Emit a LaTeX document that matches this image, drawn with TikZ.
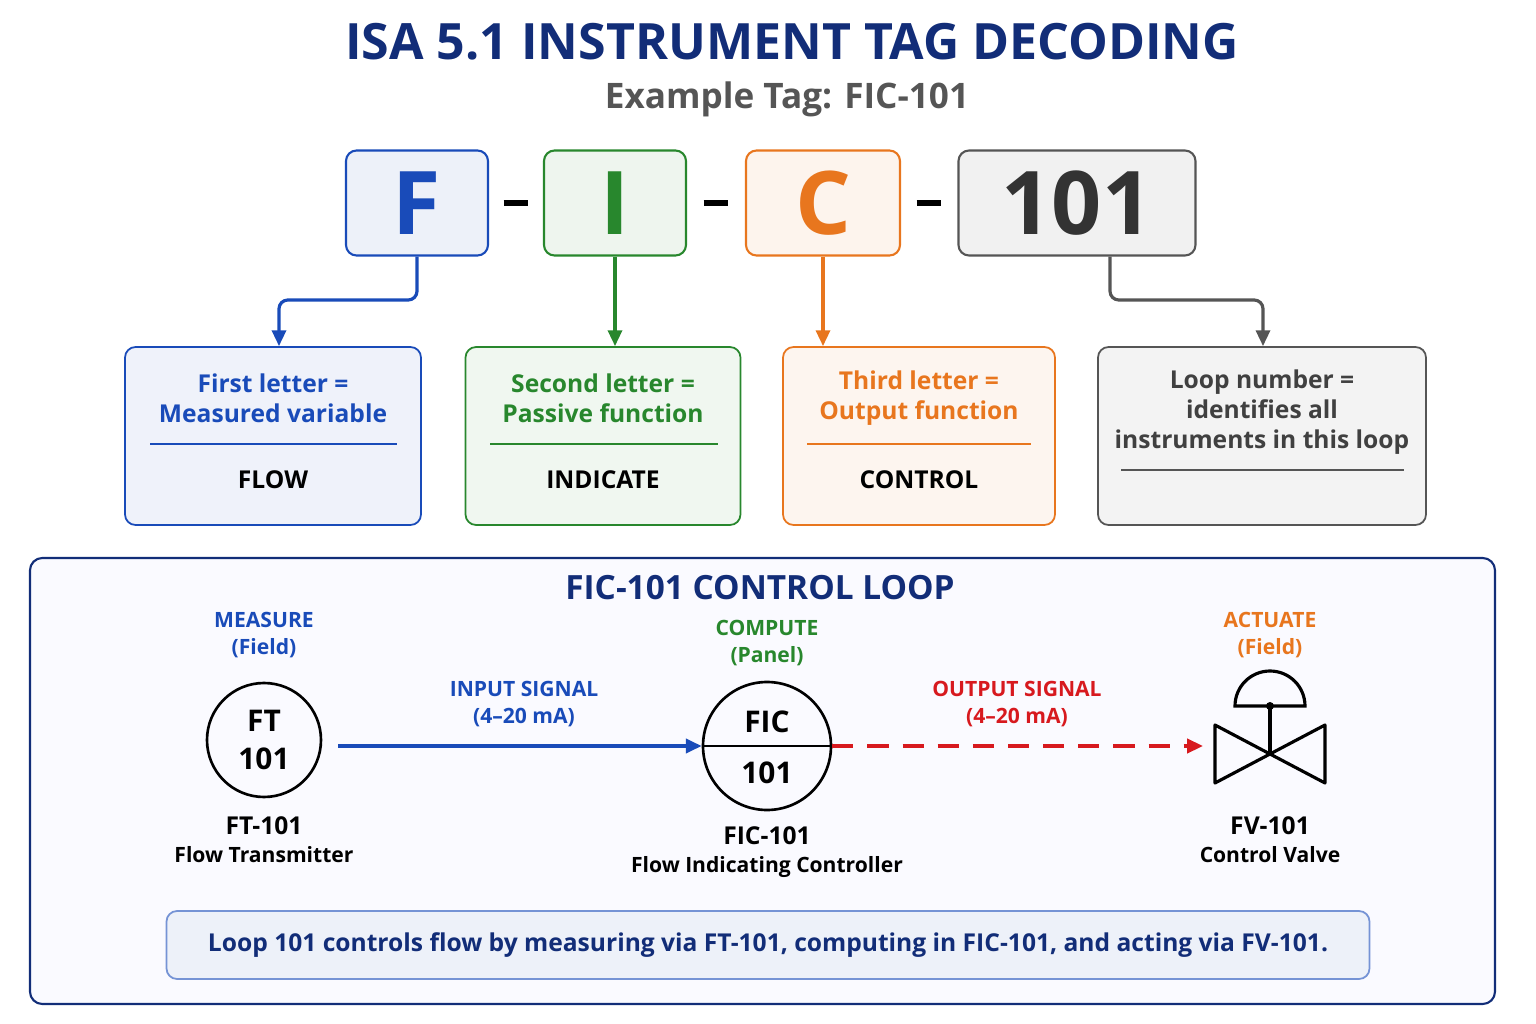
\documentclass[tikz,border=0pt]{standalone}
\usepackage{fontspec}
\setmainfont{Open Sans}
\usetikzlibrary{positioning,arrows.meta}
\definecolor{navy}{RGB}{18,45,120}
\definecolor{bl}{RGB}{25,75,185}
\definecolor{grx}{RGB}{40,135,45}
\definecolor{orx}{RGB}{232,118,30}
\definecolor{gyx}{RGB}{85,85,85}
\definecolor{rdx}{RGB}{215,25,30}
\tikzset{
    letter/.style={draw=#1,fill=#1!8,rounded corners=6pt,line width=1.2pt,text=#1,font=\fontsize{50}{50}\selectfont\bfseries},
    desc/.style={draw=#1,fill=#1!7,rounded corners=6pt,line width=1pt},
    dtxt/.style={text=#1,font=\fontsize{14}{17}\selectfont\bfseries,align=center},
    link/.style={draw=#1,line width=1.8pt,-{Triangle[length=9pt,width=8pt]}},
    lbl/.style={font=\fontsize{12}{15}\selectfont\bfseries,align=center},
    instr/.style={circle,draw,line width=1.5pt,inner sep=0pt}
}
\begin{document}
\begin{tikzpicture}[x=0.02cm,y=-0.02cm]
            \useasboundingbox (0,0) rectangle (1536,1024);
            \node[text=navy,font=\fontsize{28.5}{30}\selectfont\bfseries] (title) at (792,42) {ISA 5.1 INSTRUMENT TAG DECODING};
            \node[text=gyx,font=\fontsize{20}{20}\selectfont\bfseries] (sub) at (787,99) {Example Tag: FIC-101};
            % tag letters
            \node[letter=bl,minimum width=142*0.02cm,minimum height=105*0.02cm] (F) at (417,203) {F};
            \node[letter=grx,minimum width=142*0.02cm,minimum height=105*0.02cm] (I) at (615,203) {I};
            \node[letter=orx,minimum width=154*0.02cm,minimum height=105*0.02cm] (C) at (823,203) {C};
            \node[letter=gyx,text=black!80,minimum width=237*0.02cm,minimum height=105*0.02cm] (N) at (1077,203) {101};
            \foreach \x/\n in {516/a,716/b,929/c}
                \node[inner sep=0pt] (dash\n) at (\x,203) {\rule{14pt}{3pt}};
            % descriptions
            \node[desc=bl,minimum width=296*0.02cm,minimum height=178*0.02cm] (dF) at (273,436) {};
            \node[desc=grx,minimum width=275*0.02cm,minimum height=178*0.02cm] (dI) at (603,436) {};
            \node[desc=orx,minimum width=272*0.02cm,minimum height=178*0.02cm] (dC) at (919,436) {};
            \node[desc=gyx,minimum width=328*0.02cm,minimum height=178*0.02cm] (dN) at (1262,436) {};
            \node[dtxt=bl] (tF) at (273,398) {First letter =\\Measured variable};
            \node[dtxt=grx] (tI) at (603,398) {Second letter =\\Passive function};
            \node[dtxt=orx] (tC) at (919,398) {Third letter =\\Output function};
            \node[dtxt=black!75] (tN) at (1262,412) {Loop number =\\identifies all\\instruments in this loop};
            \draw[bl,line width=1.5pt] (150,444) -- (397,444);
            \draw[grx,line width=1.5pt] (490,444) -- (718,444);
            \draw[orx,line width=1.5pt] (807,444) -- (1031,444);
            \draw[gyx,line width=1.5pt] (1121,470) -- (1404,470);
            \node[dtxt=black] (wF) at (273,480) {FLOW};
            \node[dtxt=black] (wI) at (603,480) {INDICATE};
            \node[dtxt=black] (wC) at (919,480) {CONTROL};
            \draw[link=bl,rounded corners=5pt] (F.south) |- (279,300) -- (dF.north -| 279,0);
            \draw[link=grx] (I.south) -- (dI.north -| I.south);
            \draw[link=orx] (C.south) -- (dC.north -| C.south);
            \draw[link=gyx,rounded corners=5pt] (N.south -| 1110,0) |- (1263,300) -- (dN.north -| 1263,0);
            % control loop
            \draw[navy,fill=blue!2,line width=1.2pt,rounded corners=7pt] (30,558) rectangle (1495,1004);
            \node[text=navy,font=\fontsize{19}{19}\selectfont\bfseries] (loop) at (760,588) {FIC-101 CONTROL LOOP};
            \node[instr,minimum size=114*0.02cm,font=\fontsize{17}{22}\selectfont\bfseries,align=center] (FT) at (264,740) {FT\\101};
            \node[instr,minimum size=128*0.02cm] (FIC) at (767,746) {};
            \draw[line width=1.5pt] (FIC.west) -- (FIC.east);
            \node[font=\fontsize{17}{17}\selectfont\bfseries] (ficA) at (767,722) {FIC};
            \node[font=\fontsize{17}{17}\selectfont\bfseries] (ficB) at (767,773) {101};
            \node[lbl,text=bl] (mFT) at (264,635) {MEASURE\\(Field)};
            \node[lbl,text=grx] (mFIC) at (767,643) {COMPUTE\\(Panel)};
            \node[lbl,text=orx] (mFV) at (1270,635) {ACTUATE\\(Field)};
            \node[lbl,font=\fontsize{14}{18}\selectfont\bfseries] (nFT) at (264,840) {FT-101\\[-2pt]{\fontsize{12}{15}\selectfont Flow Transmitter}};
            \node[lbl,font=\fontsize{14}{18}\selectfont\bfseries] (nFIC) at (767,852) {FIC-101\\[-2pt]{\fontsize{12}{15}\selectfont Flow Indicating Controller}};
            \node[lbl,font=\fontsize{14}{18}\selectfont\bfseries] (nFV) at (1270,840) {FV-101\\[-2pt]{\fontsize{12}{15}\selectfont Control Valve}};
            % valve
            \coordinate (fv) at (1270,754);
            \coordinate (fvin) at (1203,746);
            \draw[line width=1.8pt,line join=round] (fv) -- (1215,725) -- (1215,783) -- cycle
                (fv) -- (1325,725) -- (1325,783) -- cycle;
            \draw[line width=1.8pt] (fv) -- (1270,706);
            \draw[line width=1.8pt] (1235,706) arc[start angle=180,end angle=0,radius=35*0.02cm] -- cycle;
            \fill (1270,706) circle[radius=4*0.02cm];
            % signals
            \draw[link=bl,line width=2pt] (FIC.west -| 338,0) -- (FIC.west);
            \draw[link=rdx,line width=2pt,dashed,dash pattern=on 12pt off 8pt] (FIC.east) -- (fvin);
            \node[lbl,text=bl] (sIn) at (524,704) {INPUT SIGNAL\\(4–20 mA)};
            \node[lbl,text=rdx] (sOut) at (1017,704) {OUTPUT SIGNAL\\(4–20 mA)};
            \node[draw=bl!60,fill=bl!8,rounded corners=6pt,line width=1pt,minimum width=1203*0.02cm,minimum height=68*0.02cm,text=navy,font=\fontsize{14}{14}\selectfont\bfseries] (note) at (768,945) {Loop 101 controls flow by measuring via FT-101, computing in FIC-101, and acting via FV-101.};
        \end{tikzpicture}
\end{document}
